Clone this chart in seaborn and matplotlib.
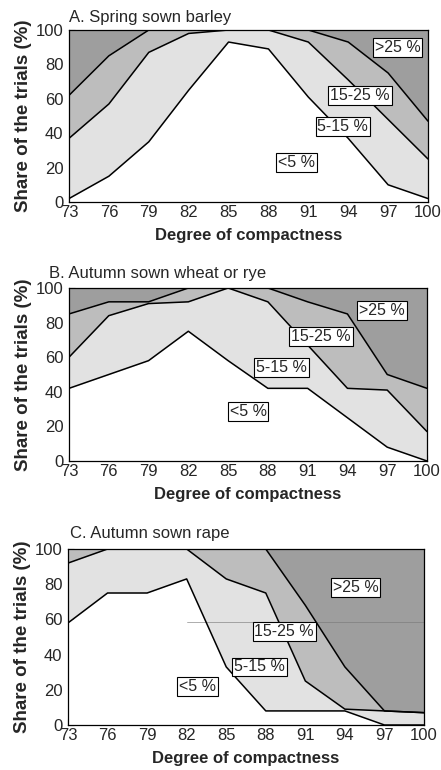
import numpy as np
import pandas as pd
import matplotlib
matplotlib.use("Agg")
import matplotlib.pyplot as plt
import seaborn as sns

# Degree of compactness (x axis)
compactness = [73, 76, 79, 82, 85, 88, 91, 94, 97, 100]

# Cumulative share of trials (%) with yield loss below each class limit
# A. Spring sown barley
barley_lt5 = [2, 15, 35, 65, 93, 89, 61, 37, 10, 2]
barley_lt15 = [37, 57, 87, 98, 100, 100, 93, 71, 48, 25]
barley_lt25 = [62, 85, 100, 100, 100, 100, 100, 93, 75, 47]

# B. Autumn sown wheat or rye
wheat_lt5 = [42, 50, 58, 75, 58, 42, 42, 25, 8, 0]
wheat_lt15 = [60, 84, 91, 92, 100, 92, 67, 42, 41, 17]
wheat_lt25 = [85, 92, 92, 100, 100, 100, 92, 85, 50, 42]

# C. Autumn sown rape
rape_lt5 = [58, 75, 75, 83, 33, 8, 8, 8, 0, 0]
rape_lt15 = [92, 100, 100, 100, 83, 75, 25, 9, 8, 7]
rape_lt25 = [100, 100, 100, 100, 100, 100, 68, 33, 8, 7]

titles = ["A. Spring sown barley", "B. Autumn sown wheat or rye", "C. Autumn sown rape"]
class_labels = ["<5 %", "5-15 %", "15-25 %", ">25 %"]

# label anchor positions (x, y in data units) for each panel
label_pos = [
    [(90.1, 23), (93.6, 44), (94.9, 62), (97.7, 90)],
    [(86.5, 28.5), (89.0, 54), (92.0, 72), (96.6, 87)],
    [(82.8, 22), (87.5, 33), (89.4, 53), (94.8, 78)],
]

panels = [
    (barley_lt5, barley_lt15, barley_lt25),
    (wheat_lt5, wheat_lt15, wheat_lt25),
    (rape_lt5, rape_lt15, rape_lt25),
]

sns.set_style("ticks")
plt.rcParams["font.family"] = ["Liberation Sans", "DejaVu Sans"]

fills = ["#ffffff", "#e2e2e2", "#bdbdbd", "#9e9e9e"]

W, H = 441, 770
fig = plt.figure(figsize=(W / 100, H / 100), dpi=100)

# axes boxes in pixels: left, right, top, bottom
boxes = [(69, 428, 30, 202), (69, 427, 288, 461), (68, 424, 549, 725)]
title_x_px = [69, 49, 70]
title_gap_px = [8, 10, 11]

for i, (lo, mid, hi) in enumerate(panels):
    l, r, t, b = boxes[i]
    ax = fig.add_axes([l / W, 1 - b / H, (r - l) / W, (b - t) / H])

    x = np.array(compactness)
    top = np.full(len(x), 100)
    zero = np.zeros(len(x))
    bounds = [zero, np.array(lo), np.array(mid), np.array(hi), top]
    for k in range(4):
        ax.fill_between(x, bounds[k], bounds[k + 1], color=fills[k], lw=0, zorder=1)

    df = pd.DataFrame({
        "Degree of compactness": np.tile(x, 3),
        "share": np.concatenate([lo, mid, hi]),
        "limit": np.repeat(["5", "15", "25"], len(x)),
    })
    sns.lineplot(data=df, x="Degree of compactness", y="share", hue="limit",
                 palette=["black"] * 3, lw=1.1, legend=False, ax=ax, zorder=3)

    if i == 2:
        ax.plot([82, 100], [58.5, 58.5], color="#777777", lw=0.6, alpha=0.7, zorder=2)

    for lab, (px, py) in zip(class_labels, label_pos[i]):
        ax.text(px, py, lab, ha="center", va="center", fontsize=11.5, zorder=5,
                bbox=dict(boxstyle="square,pad=0.12", fc="white", ec="black", lw=0.8))

    ax.set_xlim(73, 100)
    ax.set_ylim(0, 100)
    ax.set_xticks(compactness)
    ax.set_yticks(range(0, 101, 20))
    ax.tick_params(direction="in", length=4, width=0.8, labelsize=12, pad=2)
    ax.tick_params(axis="y", pad=4)
    for s in ax.spines.values():
        s.set_linewidth(0.9)
        s.set_color("black")
        s.set_visible(True)
        s.set_zorder(6)

    ax.set_ylabel("Share of the trials (%)", fontsize=13.5, fontweight="bold", labelpad=3)
    ax.set_xlabel("Degree of compactness", fontsize=12, fontweight="bold", labelpad=6)

    ax.text((title_x_px[i] - l) / (r - l), 1 + title_gap_px[i] / (b - t), titles[i],
            transform=ax.transAxes, ha="left", va="baseline", fontsize=12)

fig.savefig("out.png", dpi=100)
